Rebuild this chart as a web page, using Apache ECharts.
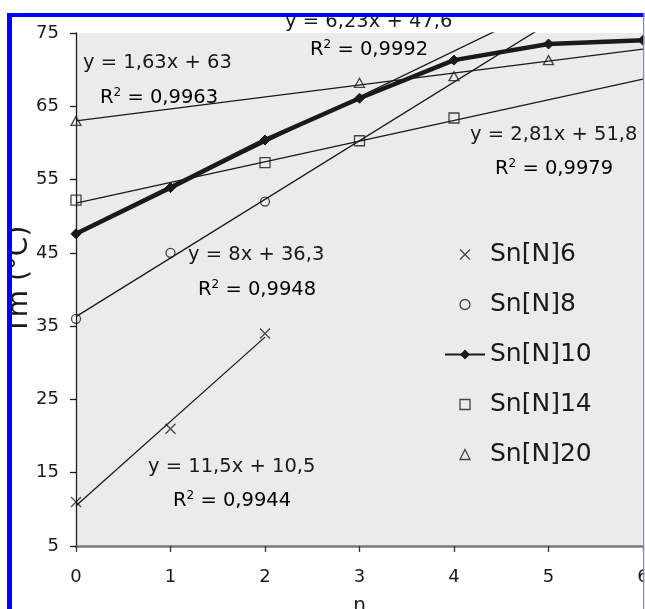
<!DOCTYPE html>
<html>
<head>
<meta charset="utf-8">
<script src="https://cdn.jsdelivr.net/npm/echarts@6/dist/echarts.min.js"></script>
<style>
  html, body { margin: 0; padding: 0; background: #fff; }
  #chart { width: 645px; height: 609px; }
</style>
</head>
<body>
<div id="chart"></div>
<script>
const seriesNames = ['Sn[N]6', 'Sn[N]8', 'Sn[N]10', 'Sn[N]14', 'Sn[N]20'];

// measured points (n, Tm)
const sn6X = [0, 1, 2];
const sn6Y = [11, 21, 34];
const sn8X = [0, 1, 2];
const sn8Y = [36, 45, 52];
const sn10X = [0, 1, 2, 3, 4, 5, 6];
const sn10Y = [47.6, 53.9, 60.4, 66.1, 71.3, 73.5, 74];
const sn14X = [0, 2, 3, 4];
const sn14Y = [52.2, 57.3, 60.3, 63.4];
const sn20X = [0, 3, 4, 5];
const sn20Y = [63, 68.2, 69.1, 71.3];

// trendline ends, read from the printed fits
const trendX0 = [0, 0, 0, 0, 0];
const trendY0 = [10.5, 36.3, 47.6, 51.8, 63];
const trendX1 = [2, 6, 6, 6, 6];
const trendY1 = [33.5, 84.3, 85, 68.7, 72.8];

const fitEquation = ['y = 11,5x + 10,5', 'y = 8x + 36,3', 'y = 6,23x + 47,6', 'y = 2,81x + 51,8', 'y = 1,63x + 63'];
const fitR2 = ['0,9944', '0,9948', '0,9992', '0,9979', '0,9963'];

const xTicks = [0, 1, 2, 3, 4, 5, 6];
const yTicks = [5, 15, 25, 35, 45, 55, 65, 75];

const FONT = 'DejaVu Sans';
const INK = '#1a1a1a';

// path symbols keep their aspect in the legend, the built-in ones get stretched
const CROSS = 'path://M0,0L10,10M10,0L0,10';
const SQUARE = 'path://M0,0L10,0L10,10L0,10Z';
const TRIANGLE = 'path://M5,0L10,10L0,10Z';

function pairs(xs, ys) {
    return xs.map((x, i) => [x, ys[i]]);
}

const openMarker = {color: 'transparent', borderColor: INK, borderWidth: 1.3};

let series = [];
// trendlines first so markers sit on top
for (let i = 0; i < 5; i++) {
    series.push({
        name: 'fit' + i,
        type: 'line',
        data: [[trendX0[i], trendY0[i]], [trendX1[i], trendY1[i]]],
        showSymbol: false,
        symbol: 'none',
        lineStyle: {color: INK, width: 1.3},
        silent: true,
        z: 2
    });
}
series.push(
    {
        name: seriesNames[0], type: 'scatter', data: pairs(sn6X, sn6Y),
        symbol: CROSS, symbolSize: 10, symbolKeepAspect: true,
        itemStyle: openMarker, z: 4
    },
    {
        name: seriesNames[1], type: 'scatter', data: pairs(sn8X, sn8Y),
        symbol: 'circle', symbolSize: 9, itemStyle: openMarker, z: 4
    },
    {
        name: seriesNames[2], type: 'line', data: pairs(sn10X, sn10Y),
        symbol: 'diamond', symbolSize: 10, showAllSymbol: true,
        lineStyle: {color: INK, width: 4.5},
        itemStyle: {color: INK, borderColor: INK, borderWidth: 1},
        z: 3
    },
    {
        name: seriesNames[3], type: 'scatter', data: pairs(sn14X, sn14Y),
        symbol: SQUARE, symbolSize: 10, symbolKeepAspect: true, itemStyle: openMarker, z: 4
    },
    {
        name: seriesNames[4], type: 'scatter', data: pairs(sn20X, sn20Y),
        symbol: TRIANGLE, symbolSize: [10, 9], symbolKeepAspect: true, itemStyle: openMarker, z: 4
    }
);

// where each fit label sits: [eqLeft, eqMidY, r2Left, r2MidY]
const labelPos = [
    [148, 467, 173, 501],
    [188, 255, 198, 290],
    [285, 22, 310, 50],
    [470, 135, 495, 169],
    [83, 63, 100, 98]
];

let graphics = [];
labelPos.forEach((p, i) => {
    graphics.push({
        type: 'text', x: p[0], y: p[1], z: 10,
        style: {text: fitEquation[i], font: '19.5px "' + FONT + '"', fill: INK, verticalAlign: 'middle'}
    });
    graphics.push({
        type: 'text', x: p[2], y: p[3], z: 10,
        style: {
            text: '{r|R}{s|2}{r| = ' + fitR2[i] + '}',
            verticalAlign: 'middle',
            rich: {
                r: {fontFamily: FONT, fontSize: 19.5, lineHeight: 22, color: INK},
                s: {fontFamily: FONT, fontSize: 12, lineHeight: 12, color: INK, verticalAlign: 'top'}
            }
        }
    });
});
graphics.push({
    type: 'text', x: 20, y: 280, rotation: Math.PI / 2, z: 10,
    style: {text: 'Tm (°C)', font: '28px "' + FONT + '"', fill: INK, align: 'center', verticalAlign: 'middle'}
});
// frame of the clipped figure
graphics.push(
    {type: 'rect', z: 100, shape: {x: 0, y: 0, width: 645, height: 13}, style: {fill: '#fff'}},
    {type: 'rect', z: 100, shape: {x: 0, y: 0, width: 7, height: 609}, style: {fill: '#fff'}},
    {type: 'rect', z: 101, shape: {x: 7, y: 13, width: 5, height: 596}, style: {fill: '#0000ff'}},
    {type: 'rect', z: 101, shape: {x: 7, y: 13, width: 638, height: 4}, style: {fill: '#0000ff'}},
    {type: 'rect', z: 101, shape: {x: 643, y: 13, width: 1.5, height: 596}, style: {fill: '#8080ff'}},
    {type: 'rect', z: 101, shape: {x: 644.5, y: 13, width: 1, height: 596}, style: {fill: '#fff'}}
);

const chart = echarts.init(document.getElementById('chart'));
chart.setOption({
    animation: false,
    backgroundColor: '#fff',
    grid: {
        left: 76, right: 2, top: 33, bottom: 63,
        show: true, backgroundColor: '#ebebeb', borderWidth: 0,
        containLabel: false, outerBoundsMode: 'none'
    },
    xAxis: {
        type: 'value', min: 0, max: 6, interval: 1,
        name: 'n', nameLocation: 'middle', nameGap: 50,
        nameTextStyle: {fontFamily: FONT, fontSize: 20, color: INK},
        axisLine: {lineStyle: {color: '#7a7a7a', width: 2.5}},
        axisTick: {length: 6, lineStyle: {color: '#333', width: 1.3}, customValues: xTicks},
        axisLabel: {fontFamily: FONT, fontSize: 18, color: INK, margin: 22, showMinLabel: true, showMaxLabel: true, customValues: xTicks},
        splitLine: {show: false}
    },
    yAxis: {
        type: 'value', min: 5, max: 75, interval: 10,
        axisLine: {show: true, lineStyle: {color: INK, width: 1.3}},
        axisTick: {show: true, length: 6, lineStyle: {color: INK, width: 1.3}, customValues: yTicks},
        axisLabel: {fontFamily: FONT, fontSize: 18, color: INK, margin: 17, customValues: yTicks},
        splitLine: {show: false}
    },
    legend: {
        data: seriesNames,
        orient: 'vertical',
        left: 439, top: 237,
        itemWidth: 40, itemHeight: 10, itemGap: 25,
        symbolKeepAspect: true,
        selectedMode: false,
        textStyle: {fontFamily: FONT, fontSize: 25, color: INK},
        itemStyle: {borderWidth: 1.3}
    },
    graphic: graphics,
    series: series
});
window.addEventListener('resize', () => {
    chart.resize();
});
</script>
</body>
</html>
